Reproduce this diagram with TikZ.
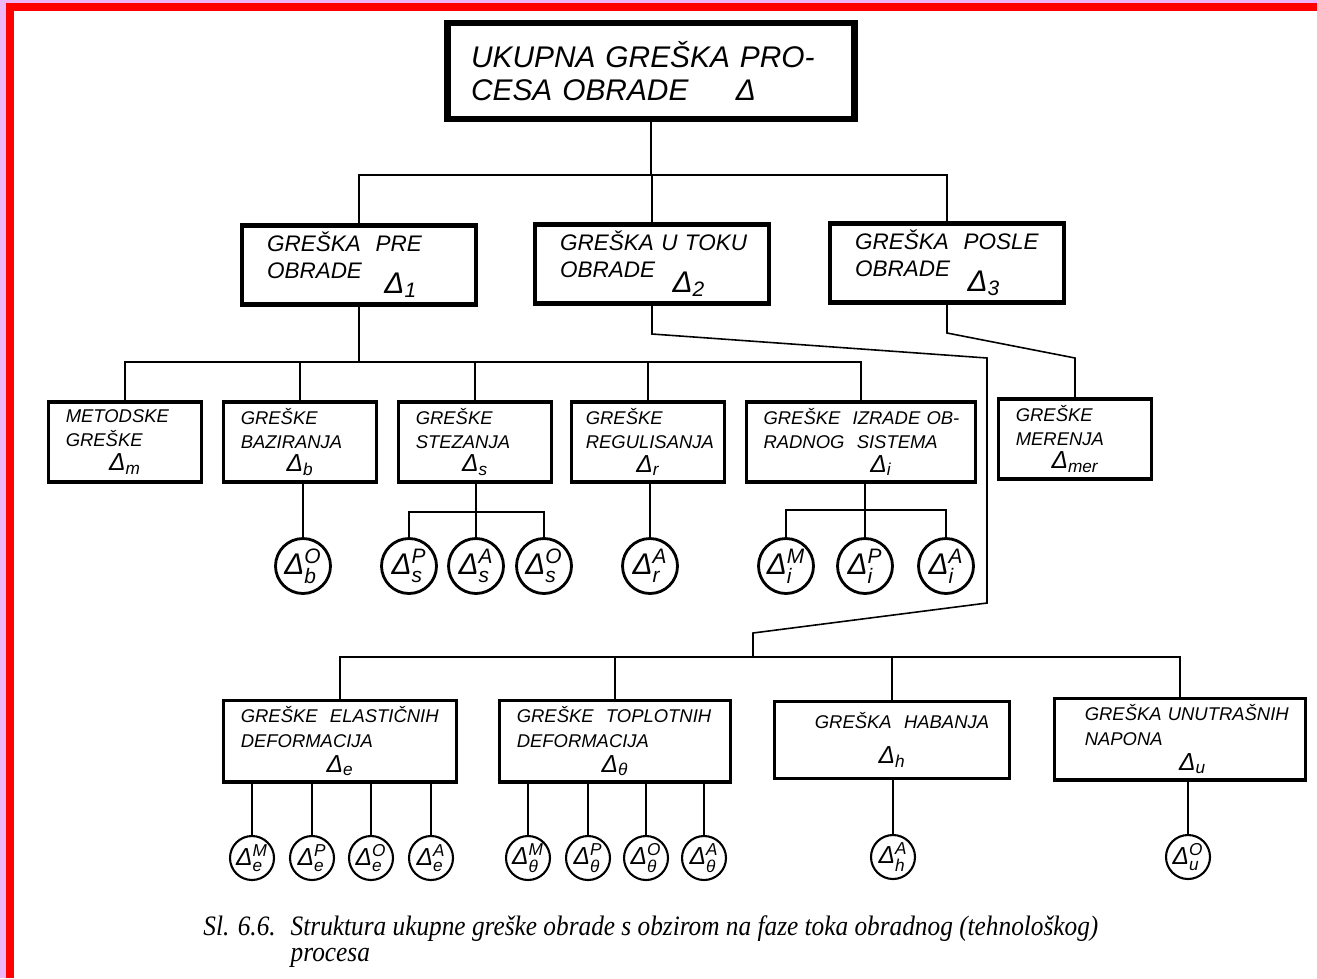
\documentclass[tikz,border=0pt]{standalone}
\usepackage{amsmath}
\usepackage{fontspec}
\setmainfont{Liberation Sans}
\newfontfamily\captionfont{Liberation Serif}[FakeStretch=0.9]
\usepackage{tikz}
\usetikzlibrary{positioning,calc}
\definecolor{framered}{RGB}{255,0,0}
\definecolor{framelilac}{RGB}{238,182,246}
\hyphenpenalty=10000
\exhyphenpenalty=10000
\newcommand{\dl}[2]{Δ$^{\text{#2}}_{\text{#1}}$}
\newcommand{\ds}[1]{Δ$_{\text{#1}}$}
\newcommand{\bigdelta}[1]{\raisebox{-0.3cm}{\fontsize{17}{17}\selectfont\ds{#1}}}
\newcommand{\dline}[1]{\hfill{\fontsize{14}{14}\selectfont\ds{#1}}\hfill\null}

\begin{document}
\begin{tikzpicture}[x=0.02cm, y=-0.02cm,
    topbox/.style={draw, line width=3.6pt, text width=7.2cm, inner xsep=0.47cm, minimum height=1.92cm, align=left, font=\fontsize{17}{19}\selectfont\itshape},
    midbox/.style={draw, line width=2.4pt, text width=3.68cm, inner xsep=0.5cm, minimum height=1.58cm, align=left, font=\fontsize{12.8}{15}\selectfont\itshape},
    lowbox/.style={draw, line width=1.9pt, text width=2.37cm, inner xsep=0.34cm, minimum height=1.6cm, align=left, font=\fontsize{10.5}{13.6}\selectfont\itshape},
    botbox/.style={draw, line width=1.9pt, inner xsep=0.34cm, minimum height=1.53cm, align=left, font=\fontsize{10.5}{14.2}\selectfont\itshape},
    ring/.style={draw, circle, line width=1.6pt, minimum size=1.1cm, inner sep=0pt, font=\fontsize{17}{17}\selectfont\itshape},
    smallring/.style={draw, circle, line width=1.2pt, minimum size=0.88cm, inner sep=0pt, font=\fontsize{14}{14}\selectfont\itshape},
    conn/.style={line width=0.9pt}]
    \useasboundingbox (0,0) rectangle (1317,978);
    \fill [white] (0,0) rectangle (1317,978);
    \fill [framelilac] (0,0) rectangle (1317,3);
    \fill [framelilac] (0,0) rectangle (6,978);
    \fill [framered] (6,3) rectangle (1317,11);
    \fill [framered] (6,3) rectangle (14,978);

    \node [topbox] (total) at (651,71) {UKUPNA GREŠKA PRO-\\CESA OBRADE\hspace{0.95cm}Δ};

    \node [midbox] (pre) at (359,265) {GREŠKA\ \ PRE\\OBRADE\hspace{0.45cm}\bigdelta{1}};
    \node [midbox] (tok) at (652,264) {GREŠKA~U~TOKU\\OBRADE\hspace{0.35cm}\bigdelta{2}};
    \node [midbox] (post) at (947,263) {GREŠKA\ \ POSLE\\OBRADE\hspace{0.35cm}\bigdelta{3}};

    \node [lowbox] (metod) at (125,442) {METODSKE\\GREŠKE\\\dline{m}};
    \node [lowbox] (bazir) at (300,442) {GREŠKE\\BAZIRANJA\\\dline{b}};
    \node [lowbox] (stez) at (475,442) {GREŠKE\\STEZANJA\\\dline{s}};
    \node [lowbox, text width=2.49cm, inner xsep=0.28cm] (regul) at (648,442) {GREŠKE\\REGULISANJA\\\dline{r}};
    \node [lowbox, text width=3.9cm] (izrade) at (861,442) {\mbox{GREŠKE\ \ IZRADE OB-}\\\mbox{RADNOG\ \ SISTEMA}\\\hspace*{0.8cm}\dline{i}};
    \node [lowbox] (meren) at (1075,439) {GREŠKE\\MERENJA\\\dline{mer}};

    \node [ring] (bo) at (303,566) {\dl{b}{O}};
    \node [ring] (ssP) at (409,566) {\dl{s}{P}};
    \node [ring] (ssA) at (476,566) {\dl{s}{A}};
    \node [ring] (ssO) at (544,566) {\dl{s}{O}};
    \node [ring] (ra) at (650,566) {\dl{r}{A}};
    \node [ring] (iM) at (786,566) {\dl{i}{M}};
    \node [ring] (iP) at (865,566) {\dl{i}{P}};
    \node [ring] (iA) at (946,566) {\dl{i}{A}};

    \node [botbox, text width=3.97cm] (elast) at (340,741) {GREŠKE\ \ ELASTIČNIH\\DEFORMACIJA\\\dline{e}};
    \node [botbox, text width=3.93cm] (topl) at (615,741) {GREŠKE\ \ TOPLOTNIH\\DEFORMACIJA\\\dline{θ}};
    \node [botbox, text width=4.03cm, align=center] (haban) at (892,740) {\hspace*{0.4cm}GREŠKA\ \ HABANJA\\[6pt]{\fontsize{14}{14}\selectfont\ds{h}}};
    \node [botbox, text width=3.81cm, inner xsep=0.6cm] (unutr) at (1180,739) {GREŠKA~UNUTRAŠNIH\\NAPONA\\\hspace*{0.5cm}\dline{u}};

    \node [smallring] (eM) at (252,858) {\dl{e}{M}};
    \node [smallring] (eP) at (312,858) {\dl{e}{P}};
    \node [smallring] (eO) at (371,858) {\dl{e}{O}};
    \node [smallring] (eA) at (431,858) {\dl{e}{A}};
    \node [smallring] (tM) at (528,858) {\dl{θ}{M}};
    \node [smallring] (tP) at (588,858) {\dl{θ}{P}};
    \node [smallring] (tO) at (646,858) {\dl{θ}{O}};
    \node [smallring] (tA) at (704,858) {\dl{θ}{A}};
    \node [smallring] (hA) at (893,857) {\dl{h}{A}};
    \node [smallring] (uO) at (1188,857) {\dl{u}{O}};

    \coordinate (bus1) at (652,175);
    \coordinate (bus2) at (359,362);
    \coordinate (tk1) at (652,334);
    \coordinate (tk2) at (987,358);
    \coordinate (tk3) at (987,603);
    \coordinate (tk4) at (753,633);
    \coordinate (bus3) at (753,657);
    \coordinate (ps1) at (947,333);
    \coordinate (ps2) at (1075,358);
    \coordinate (sbar) at (476,512);
    \coordinate (ibar) at (865,510);

    \draw [conn] (total.south) -- (total.south |- bus1);
    \draw [conn] (pre.north) |- (bus1) -| (post.north);
    \draw [conn] (tok.north) -- (tok.north |- bus1);

    \draw [conn] (pre.south) -- (bus2);
    \draw [conn] (metod.north) |- (bus2) -| (izrade.north);
    \foreach \n in {bazir,stez,regul}
        \draw [conn] (\n.north) -- (\n.north |- bus2);

    \draw [conn] (tok.south) -- (tk1) -- (tk2) -- (tk3) -- (tk4) -- (bus3);
    \draw [conn] (elast.north) |- (bus3) -| (unutr.north);
    \foreach \n in {topl,haban}
        \draw [conn] (\n.north) -- (\n.north |- bus3);

    \draw [conn] (post.south) -- (ps1) -- (ps2) -- (meren.north);

    \draw [conn] (bazir.south -| bo) -- (bo);
    \draw [conn] (stez.south -| ssA) -- (ssA);
    \draw [conn] (ssP) |- (sbar) -| (ssO);
    \draw [conn] (regul.south -| ra) -- (ra);
    \draw [conn] (izrade.south -| iP) -- (iP);
    \draw [conn] (iM) |- (ibar) -| (iA);

    \foreach \c in {eM,eP,eO,eA}
        \draw [conn] (elast.south -| \c) -- (\c);
    \foreach \c in {tM,tP,tO,tA}
        \draw [conn] (topl.south -| \c) -- (\c);
    \draw [conn] (haban.south -| hA) -- (hA);
    \draw [conn] (unutr.south -| uO) -- (uO);

    \node [anchor=base west, inner sep=0pt, font=\captionfont\itshape\fontsize{16}{15.3}\selectfont] (caption) at (203,935) {\begin{tabular}[t]{@{}l@{\hspace{0.3cm}}l@{}}Sl. 6.6. & Struktura ukupne greške obrade s obzirom na faze toka obradnog (tehnološkog)\\ & procesa\end{tabular}};
\end{tikzpicture}
\end{document}
